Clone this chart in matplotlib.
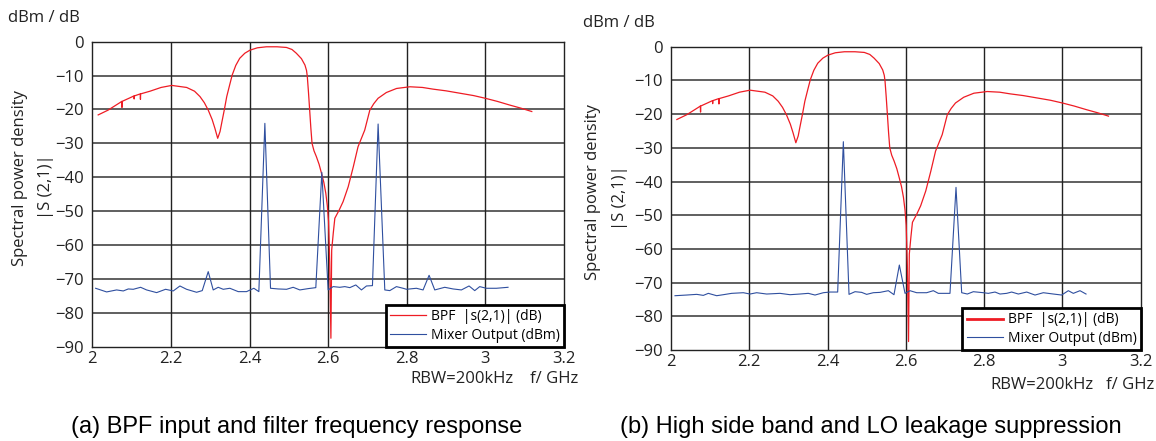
import matplotlib
matplotlib.use("Agg")
import matplotlib.pyplot as plt
from matplotlib.lines import Line2D

plt.rcParams['font.family'] = ['Open Sans', 'DejaVu Sans']

# ---------------- data ----------------
bpf_f = [2.015, 2.04, 2.07, 2.075, 2.0755, 2.076, 2.095, 2.106, 2.1065, 2.107,
         2.122, 2.1225, 2.123, 2.147, 2.175, 2.202, 2.24, 2.26, 2.274, 2.285,
         2.295, 2.305, 2.312, 2.319, 2.325, 2.329, 2.336, 2.342, 2.35, 2.356,
         2.365, 2.375, 2.388, 2.401, 2.42, 2.443, 2.47, 2.494, 2.508, 2.519,
         2.532, 2.541, 2.545, 2.547, 2.55, 2.553, 2.556, 2.559, 2.564, 2.57,
         2.577, 2.583, 2.589, 2.594, 2.598, 2.601, 2.604, 2.607, 2.609, 2.613,
         2.617, 2.622, 2.628, 2.638, 2.651, 2.664, 2.676, 2.693, 2.706, 2.716,
         2.727, 2.748, 2.774, 2.808, 2.84, 2.867, 2.90, 2.935, 2.97, 3.0,
         3.03, 3.062, 3.09, 3.118]
bpf_db = [-21.6, -20.2, -18.0, -17.6, -19.4, -17.6, -16.6, -16.0, -16.9, -16.0,
          -15.4, -17.0, -15.4, -14.6, -13.5, -12.9, -13.5, -14.6, -16.2, -18.0,
          -20.2, -23.0, -25.6, -28.5, -26.5, -24.1, -20.0, -16.2, -12.5, -9.8,
          -7.0, -4.9, -3.4, -2.5, -1.8, -1.5, -1.5, -1.7, -2.3, -3.4,
          -5.0, -6.9, -8.5, -10.3, -15.0, -20.2, -25.5, -30.0, -32.2, -33.9,
          -36.2, -38.8, -41.5, -44.7, -48.5, -53.0, -65.0, -87.5, -61.5, -56.5,
          -52.1, -51.0, -49.7, -47.2, -42.8, -36.9, -31.0, -26.1, -20.2, -18.3,
          -16.7, -15.0, -13.8, -13.3, -13.5, -14.0, -14.5, -15.2, -15.9, -16.7,
          -17.6, -18.7, -19.6, -20.6]

mix_a_f = [2.0085, 2.0364, 2.0619, 2.0788, 2.0915, 2.1042, 2.1229, 2.1381, 2.1636, 2.1864,
           2.2059, 2.2229, 2.2398, 2.2653, 2.2797, 2.2949, 2.3076, 2.3203, 2.3331, 2.35,
           2.3712, 2.3924, 2.411, 2.4237, 2.439, 2.4534, 2.4729, 2.4941, 2.511, 2.528,
           2.5492, 2.5686, 2.5839, 2.6, 2.6127, 2.6297, 2.6424, 2.6551, 2.6703, 2.6847,
           2.6975, 2.7127, 2.7271, 2.7441, 2.7568, 2.7737, 2.7907, 2.7992, 2.8246, 2.8415,
           2.8568, 2.8712, 2.8966, 2.9178, 2.939, 2.9585, 2.9729, 2.9856, 3.0025, 3.028,
           3.0576]
mix_a_dbm = [-72.76, -73.84, -73.25, -73.55, -72.96, -73.06, -72.47, -73.25, -74.04, -73.06,
             -73.55, -72.08, -73.06, -73.94, -73.45, -67.85, -73.25, -72.47, -73.06, -72.76,
             -73.75, -73.75, -72.76, -73.75, -24.09, -72.76, -72.96, -73.06, -72.47, -73.25,
             -72.86, -72.57, -38.54, -73.25, -72.27, -72.47, -72.27, -72.57, -71.78, -73.25,
             -72.08, -71.98, -24.29, -73.25, -73.45, -72.27, -72.76, -73.06, -72.76, -73.25,
             -68.93, -73.25, -72.47, -72.96, -73.25, -72.08, -73.45, -72.27, -72.76, -72.76,
             -72.47]

mix_b_f = [2.0102, 2.04, 2.0656, 2.0826, 2.0954, 2.1167, 2.1337, 2.155, 2.1848, 2.2019,
           2.2189, 2.2445, 2.2785, 2.3041, 2.3296, 2.3509, 2.368, 2.3893, 2.4063, 2.4259,
           2.4404, 2.4549, 2.4702, 2.4872, 2.5, 2.517, 2.5341, 2.5554, 2.5698, 2.5835,
           2.598, 2.6107, 2.6278, 2.6533, 2.6704, 2.6831, 2.7129, 2.7283, 2.7428, 2.7572,
           2.7726, 2.7981, 2.8109, 2.8279, 2.8407, 2.8577, 2.8705, 2.8876, 2.9089, 2.9302,
           2.9514, 2.977, 2.9983, 3.0153, 3.0281, 3.0451, 3.0605]
mix_b_dbm = [-73.89, -73.69, -73.49, -73.79, -73.19, -73.89, -73.59, -73.19, -73.0, -73.39,
             -73.0, -73.39, -73.19, -73.59, -73.39, -73.19, -73.69, -73.0, -72.8, -72.8,
             -28.19, -73.49, -72.70, -72.90, -73.49, -73.0, -72.90, -72.40, -73.59, -64.79,
             -73.19, -72.40, -73.0, -73.0, -72.40, -73.19, -73.19, -41.74, -73.0, -73.39,
             -72.70, -73.0, -73.19, -72.80, -73.39, -73.19, -72.80, -73.39, -72.80, -73.69,
             -73.0, -73.39, -73.69, -72.40, -73.19, -72.40, -73.39]

x_ticks = [2.0, 2.2, 2.4, 2.6, 2.8, 3.0, 3.2]
x_tick_labels = ["2", "2.2", "2.4", "2.6", "2.8", "3", "3.2"]
y_ticks = [0, -10, -20, -30, -40, -50, -60, -70, -80, -90]
y_tick_labels = ["0", "\u221210", "\u221220", "\u221230", "\u221240", "\u221250",
                 "\u221260", "\u221270", "\u221280", "\u221290"]

series_labels = ["BPF  |s(2,1)| (dB)", "Mixer Output (dBm)"]
captions = ["(a) BPF input and filter frequency response",
            "(b) High side band and LO leakage suppression"]

RED = "#ee1c24"
BLUE = "#2f4f9f"

W, H = 1156, 441
fig = plt.figure(figsize=(W / 100, H / 100), dpi=100)


def fx(x):
    return x / W


def fy(y):
    return 1 - y / H


def make_panel(box, mix_f, mix_v, legend_thick):
    l, t, r, b = box
    ax = fig.add_axes([fx(l), fy(b), fx(r - l), (b - t) / H])
    ax.plot(bpf_f, bpf_db, color=RED, lw=0.9, zorder=3)
    ax.plot(mix_f, mix_v, color=BLUE, lw=0.8, zorder=3)
    ax.set_xlim(2.0, 3.2)
    ax.set_ylim(-90, 0)
    ax.set_xticks(x_ticks)
    ax.set_xticklabels(x_tick_labels)
    ax.set_yticks(y_ticks)
    ax.set_yticklabels(y_tick_labels)
    ax.tick_params(length=0, labelsize=12, colors="#222222", pad=6)
    ax.tick_params(axis='x', pad=3)
    for yv in y_ticks[1:-1]:
        ax.axhline(yv, color="#444444", lw=1.2, zorder=1)
    for xv in x_ticks[1:-1]:
        ax.axvline(xv, color="#222222", lw=1.0, zorder=1)
    for s in ax.spines.values():
        s.set_color("#222222")
        s.set_linewidth(1.0)
    handles = [Line2D([], [], color=RED, lw=legend_thick),
               Line2D([], [], color=BLUE, lw=0.8)]
    leg = ax.legend(handles, series_labels, loc='lower right', bbox_to_anchor=(1, 0),
                    borderaxespad=0, frameon=True, fancybox=False, edgecolor='black',
                    framealpha=1, handlelength=2.6, handletextpad=0.35, borderpad=0.3,
                    labelspacing=0.25, fontsize=10)
    leg.get_frame().set_linewidth(2.0)
    leg.set_zorder(5)
    return ax


axa = make_panel((92.3, 41.7, 564, 346.7), mix_a_f, mix_a_dbm, 0.9)
axb = make_panel((671, 46.7, 1140.6, 350), mix_b_f, mix_b_dbm, 2.0)

txt_kw = dict(color="#222222")
# left panel texts
fig.text(fx(8), fy(18.5), "dBm / dB", fontsize=12, ha='left', va='center', **txt_kw)
fig.text(fx(20.5), fy(178), "Spectral power density", fontsize=12, rotation=90,
         ha='center', va='center', **txt_kw)
fig.text(fx(46.5), fy(187), "|S (2,1)|", fontsize=12, rotation=90,
         ha='center', va='center', **txt_kw)
fig.text(fx(513), fy(379), "RBW=200kHz", fontsize=12, ha='right', va='center', **txt_kw)
fig.text(fx(530), fy(379), "f/ GHz", fontsize=12, ha='left', va='center', **txt_kw)
fig.text(fx(297), fy(427), captions[0], fontsize=17, family='Liberation Sans',
         ha='center', va='center', color='black')

# right panel texts
fig.text(fx(583), fy(22.7), "dBm / dB", fontsize=12, ha='left', va='center', **txt_kw)
fig.text(fx(593), fy(192), "Spectral power density", fontsize=12, rotation=90,
         ha='center', va='center', **txt_kw)
fig.text(fx(620), fy(198), "|S (2,1)|", fontsize=12, rotation=90,
         ha='center', va='center', **txt_kw)
fig.text(fx(1093), fy(385), "RBW=200kHz", fontsize=12, ha='right', va='center', **txt_kw)
fig.text(fx(1106), fy(385), "f/ GHz", fontsize=12, ha='left', va='center', **txt_kw)
fig.text(fx(871), fy(427), captions[1], fontsize=17, family='Liberation Sans',
         ha='center', va='center', color='black')

fig.savefig("out.png", dpi=100)
